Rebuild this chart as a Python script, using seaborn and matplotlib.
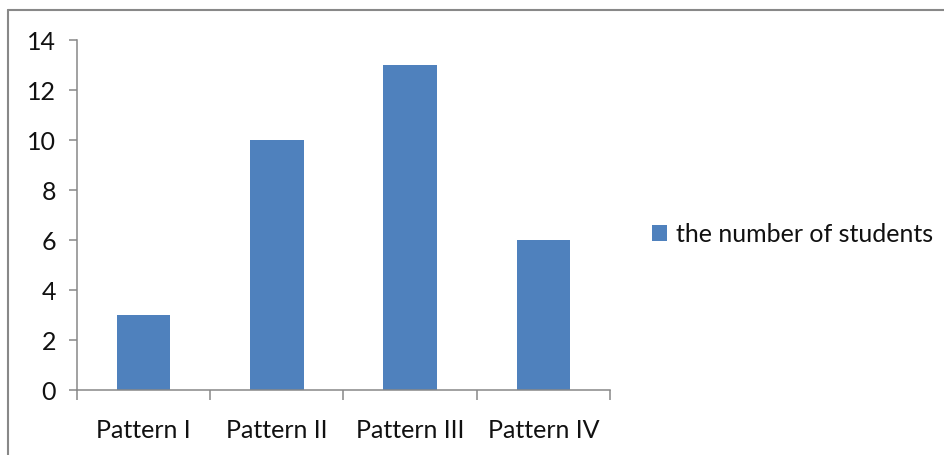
import pandas as pd
import matplotlib
matplotlib.use("Agg")
import matplotlib.pyplot as plt
import seaborn as sns

# data
patterns = ["Pattern I", "Pattern II", "Pattern III", "Pattern IV"]
students = [3, 10, 13, 6]
series_name = "the number of students"

df = pd.DataFrame({"pattern": patterns, "students": students, "series": series_name})

sns.set_style("white")
plt.rcParams["font.family"] = ["Lato", "DejaVu Sans"]

fig = plt.figure(figsize=(9.45, 4.56), dpi=100)
ax = fig.add_axes([77 / 945, 1 - 391 / 456, (610 - 77) / 945, (391 - 41) / 456])

sns.barplot(data=df, x="pattern", y="students", hue="series", palette=["#4F81BD"],
            width=0.4, ax=ax, legend=True, saturation=1, linewidth=0)

grey = "#888888"
ax.set_ylim(0, 14)
ax.set_yticks(range(0, 15, 2))
ax.set_xlim(-0.5, 3.5)
ax.set_xlabel("")
ax.set_ylabel("")
for s in ["top", "right"]:
    ax.spines[s].set_visible(False)
for s in ["left", "bottom"]:
    ax.spines[s].set_color(grey)
    ax.spines[s].set_linewidth(1.1)

ax.tick_params(axis="y", which="major", direction="out", length=6, width=1.1,
               color=grey, labelsize=18, pad=9, left=True, labelcolor="#111111")
ax.set_xticks([-0.5, 0.5, 1.5, 2.5, 3.5], minor=True)
ax.tick_params(axis="x", which="minor", direction="out", length=7, width=1.1,
               color=grey, bottom=True)
ax.tick_params(axis="x", which="major", length=0, labelsize=18, pad=20,
               labelcolor="#111111")

sns.move_legend(ax, "center left", bbox_to_anchor=(652 / 945, 1 - 235 / 456),
                bbox_transform=fig.transFigure, frameon=False, title=None,
                fontsize=18, borderpad=0, handlelength=0.6, handleheight=0.6,
                handletextpad=0.35, borderaxespad=0)
for t in ax.get_legend().get_texts():
    t.set_color("#111111")

# outer chart frame (partially cropped in the original)
fig.add_artist(plt.Line2D([8.5 / 945, 1], [1 - 11 / 456, 1 - 11 / 456],
                          transform=fig.transFigure, color=grey, lw=1.5))
fig.add_artist(plt.Line2D([8.5 / 945, 8.5 / 945], [0, 1 - 11 / 456],
                          transform=fig.transFigure, color=grey, lw=1.5))

fig.savefig("out.png", dpi=100, facecolor="white")
